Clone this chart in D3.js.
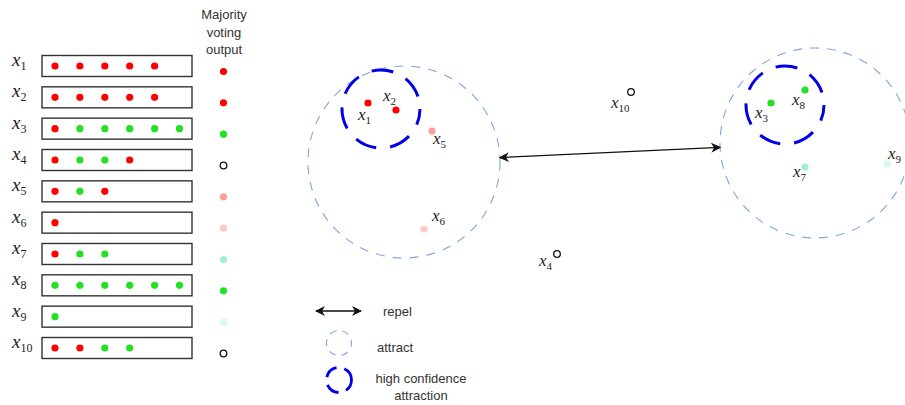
<!DOCTYPE html>
<html>
<head>
<meta charset="utf-8">
<script src="https://cdn.jsdelivr.net/npm/d3@7"></script>
<style>
  body { margin: 0; background: #fff; }
  text { font-family: "Liberation Sans", Arial, sans-serif; }
  .math { font-family: "Liberation Serif", "DejaVu Serif", serif; font-style: italic; fill: #222; }
</style>
</head>
<body>
<div id="chart"></div>
<script>
// ---- data ----
const rows = ["1", "2", "3", "4", "5", "6", "7", "8", "9", "10"];
// votes per sample: R = red class, G = green class
const votes = [
  ["R", "R", "R", "R", "R"],
  ["R", "R", "R", "R", "R"],
  ["R", "G", "G", "G", "G", "G"],
  ["R", "G", "G", "R"],
  ["R", "G", "R"],
  ["R"],
  ["R", "G", "G"],
  ["G", "G", "G", "G", "G", "G"],
  ["G"],
  ["R", "R", "G", "G"]
];
// majority voting output (null = undecided, hollow)
const outputColors = ["#ff0000", "#ff0000", "#22e022", null, "#ff9c9c", "#ffcaca", "#9df0cf", "#22e022", "#d3fbef", null];
const headerLines = ["Majority", "voting", "output"];

// embedding positions (plot units)
const embX = [68, 96, 471, 257, 132, 124, 505, 505, 587, 331];
const embY = [103, 110, 103, 254, 131, 229, 167, 90, 164, 92];
// label offsets: [dx, dy] relative to point
const labelDx = [-10, -13, -16, -18, 1, 8, -12, -13, 1, -20];
const labelDy = [17, -9, 15, 12, 13, -8, 10, 15, -5, 16];

// attraction clusters: centre and radius
const clusterX = [104, 515];
const clusterY = [162, 143];
const clusterR = [96, 95];
const coreX = [81, 485];
const coreY = [109, 105];
const coreR = [39, 39];

const legendLabels = ["repel", "attract", "high confidence\nattraction"];

const colorOf = { R: "#ff0000", G: "#22e022" };

// ---- svg ----
const W = 905, H = 405;
const svg = d3.select("#chart").append("svg").attr("width", W).attr("height", H);

svg.append("defs").append("marker")
  .attr("id", "arrow")
  .attr("viewBox", "0 0 10 10")
  .attr("refX", 9).attr("refY", 5)
  .attr("markerWidth", 10).attr("markerHeight", 10)
  .attr("markerUnits", "userSpaceOnUse")
  .attr("orient", "auto-start-reverse")
  .append("path")
  .attr("d", "M0,0 L10,5 L0,10 L3,5 z")
  .attr("fill", "#111");

// ---- left panel: votes ----
const yRow = d3.scalePoint().domain(rows).range([66, 348]);
const xVote = d3.scaleLinear().domain([0, 5]).range([55, 179.5]);

const row = svg.selectAll(".row").data(rows).enter().append("g").attr("class", "row");

row.append("rect")
  .attr("x", 42).attr("y", (d) => yRow(d) - 10.5)
  .attr("width", 150).attr("height", 21)
  .attr("fill", "none").attr("stroke", "#333").attr("stroke-width", 1.4);

const lab = row.append("text").attr("class", "math")
  .attr("x", 12).attr("y", (d) => yRow(d))
  .attr("font-size", 19);
lab.append("tspan").text("x");
lab.append("tspan").attr("dy", 4).attr("font-size", 12).attr("font-style", "normal").text((d) => d);

row.each(function (d, i) {
  d3.select(this).selectAll("circle.vote")
    .data(votes[i]).enter().append("circle")
    .attr("class", "vote")
    .attr("cx", (v, j) => xVote(j))
    .attr("cy", yRow(d))
    .attr("r", 3.6)
    .attr("fill", (v) => colorOf[v]);
});

// majority output column
svg.selectAll(".out").data(rows).enter().append("circle")
  .attr("cx", 223.5)
  .attr("cy", (d) => yRow(d) + 5.5)
  .attr("r", (d, i) => outputColors[i] ? 3.6 : 3.3)
  .attr("fill", (d, i) => outputColors[i] || "none")
  .attr("stroke", (d, i) => outputColors[i] ? "none" : "#111")
  .attr("stroke-width", 1.3);

svg.append("text")
  .attr("x", 224).attr("text-anchor", "middle")
  .attr("font-size", 13).attr("fill", "#333")
  .selectAll("tspan").data(headerLines).enter().append("tspan")
  .attr("x", 224).attr("y", (d, i) => 19 + i * 17.5)
  .text((d) => d);

// ---- right panel: embedding ----
const xs = d3.scaleLinear().domain([0, 605]).range([300, 905]);
const ys = d3.scaleLinear().domain([0, 405]).range([0, 405]);
const k = (xs(1) - xs(0));

svg.selectAll(".cluster").data(clusterX).enter().append("circle")
  .attr("cx", (d) => xs(d))
  .attr("cy", (d, i) => ys(clusterY[i]))
  .attr("r", (d, i) => clusterR[i] * k)
  .attr("fill", "none").attr("stroke", "#7ea6e0")
  .attr("stroke-width", 1.1).attr("stroke-dasharray", "9 8");

svg.selectAll(".core").data(coreX).enter().append("circle")
  .attr("cx", (d) => xs(d))
  .attr("cy", (d, i) => ys(coreY[i]))
  .attr("r", (d, i) => coreR[i] * k)
  .attr("fill", "none").attr("stroke", "#0000e6")
  .attr("stroke-width", 3).attr("stroke-dasharray", "22 14")
  .attr("stroke-dashoffset", 6);

// repel arrow between the two cluster edges
const a0 = [clusterX[0], clusterY[0]], a1 = [clusterX[1], clusterY[1]];
const ang = Math.atan2(a1[1] - a0[1], a1[0] - a0[0]);
svg.append("line")
  .attr("x1", xs(a0[0] + clusterR[0] * Math.cos(ang)))
  .attr("y1", ys(a0[1] + clusterR[0] * Math.sin(ang)))
  .attr("x2", xs(a1[0] - clusterR[1] * Math.cos(ang)))
  .attr("y2", ys(a1[1] - clusterR[1] * Math.sin(ang)))
  .attr("stroke", "#111").attr("stroke-width", 1.3)
  .attr("marker-start", "url(#arrow)").attr("marker-end", "url(#arrow)");

// points
svg.selectAll(".pt").data(rows).enter().append("circle")
  .attr("cx", (d, i) => xs(embX[i]))
  .attr("cy", (d, i) => ys(embY[i]))
  .attr("r", (d, i) => outputColors[i] ? 3.6 : 3.3)
  .attr("fill", (d, i) => outputColors[i] || "none")
  .attr("stroke", (d, i) => outputColors[i] ? "none" : "#111")
  .attr("stroke-width", 1.3);

const pl = svg.selectAll(".plab").data(rows).enter().append("text")
  .attr("class", "math")
  .attr("x", (d, i) => xs(embX[i] + labelDx[i]))
  .attr("y", (d, i) => ys(embY[i] + labelDy[i]))
  .attr("font-size", 17);
pl.append("tspan").text("x");
pl.append("tspan").attr("dy", 3.5).attr("font-size", 11).attr("font-style", "normal").text((d) => d);

// ---- legend ----
const legY = d3.scalePoint().domain(legendLabels).range([311, 380]);
svg.append("line")
  .attr("x1", 316).attr("x2", 361)
  .attr("y1", legY(legendLabels[0])).attr("y2", legY(legendLabels[0]))
  .attr("stroke", "#111").attr("stroke-width", 1.3)
  .attr("marker-start", "url(#arrow)").attr("marker-end", "url(#arrow)");
svg.append("circle")
  .attr("cx", 339).attr("cy", legY(legendLabels[1]) - 2.5).attr("r", 12.5)
  .attr("fill", "none").attr("stroke", "#7ea6e0").attr("stroke-width", 1.1)
  .attr("stroke-dasharray", "7 6").attr("stroke-dashoffset", 3);
svg.append("circle")
  .attr("cx", 339).attr("cy", legY(legendLabels[2])).attr("r", 12.5)
  .attr("fill", "none").attr("stroke", "#0000e6").attr("stroke-width", 2.8)
  .attr("stroke-dasharray", "14 8").attr("stroke-dashoffset", 2);

svg.append("text").attr("x", 383).attr("y", legY(legendLabels[0]) + 5)
  .attr("font-size", 13).attr("fill", "#333").text(legendLabels[0]);
svg.append("text").attr("x", 377).attr("y", legY(legendLabels[1]) + 6.5)
  .attr("font-size", 13).attr("fill", "#333").text(legendLabels[1]);
svg.append("text").attr("text-anchor", "middle")
  .attr("font-size", 13).attr("fill", "#333")
  .selectAll("tspan").data(legendLabels[2].split("\n")).enter().append("tspan")
  .attr("x", 421).attr("y", (d, i) => legY(legendLabels[2]) + 3 + i * 17)
  .text((d) => d);
</script>
</body>
</html>
